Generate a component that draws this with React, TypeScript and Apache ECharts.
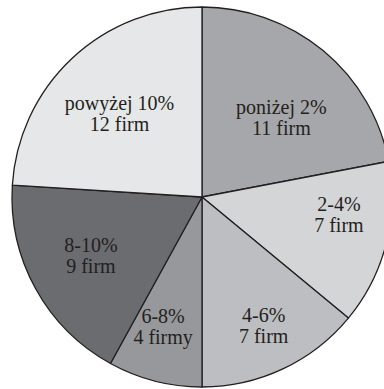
import React, { useEffect, useRef } from "react";
import * as echarts from "echarts";

// Firm counts per profitability band
const categories = ["poniżej 2%", "2-4%", "4-6%", "6-8%", "8-10%", "powyżej 10%"];
const firmCounts = [11, 7, 7, 4, 9, 12];
const countLabels = ["11 firm", "7 firm", "7 firm", "4 firmy", "9 firm", "12 firm"];

const sliceColors = ["#a6a7aa", "#d4d5d7", "#bdbec1", "#97989b", "#6b6c70", "#e6e7e8"];
// label placement: distance from the centre (share of radius) and a turn off the slice middle (deg)
const labelRadius = [0.6, 0.725, 0.74, 0.7, 0.655, 0.625];
const labelTurn = [4.5, -8, -0.8, 2.6, 2, -0.8];

const CX = 202;
const CY = 197;
const R = 190;

export default function App() {
  const ref = useRef<HTMLDivElement>(null);

  useEffect(() => {
    document.body.style.margin = "0";
    if (!ref.current) return;
    const chart = echarts.init(ref.current, undefined, { renderer: "svg" });

    const total = firmCounts.reduce((a, b) => a + b, 0);
    const midAngles: number[] = [];
    let acc = 0;
    firmCounts.forEach((v) => {
      const span = (v / total) * 360;
      midAngles.push(acc + span / 2);
      acc += span;
    });

    chart.setOption({
      animation: false,
      backgroundColor: "#ffffff",
      series: [
        {
          type: "pie",
          center: [CX, CY],
          radius: [0, R],
          startAngle: 90,
          clockwise: true,
          silent: true,
          data: categories.map((name, i) => ({
            name,
            value: firmCounts[i],
            itemStyle: { color: sliceColors[i] },
          })),
          itemStyle: { borderColor: "#231f20", borderWidth: 1.3 },
          label: {
            show: true,
            position: "inside",
            formatter: (p: any) => `${p.name}\n${countLabels[p.dataIndex]}`,
            fontFamily: "Liberation Serif, Times New Roman, serif",
            fontSize: 20,
            lineHeight: 21,
            color: "#231f20",
            align: "center",
            verticalAlign: "middle",
          },
          labelLine: { show: false },
          labelLayout: (params: any) => {
            const i = params.dataIndex;
            const a = ((midAngles[i] + labelTurn[i]) * Math.PI) / 180;
            const d = labelRadius[i] * R;
            return {
              x: CX + d * Math.sin(a),
              y: CY - d * Math.cos(a) + 2,
            };
          },
        },
      ],
    });

    return () => chart.dispose();
  }, []);

  return <div ref={ref} style={{ width: 384, height: 389 }} />;
}
